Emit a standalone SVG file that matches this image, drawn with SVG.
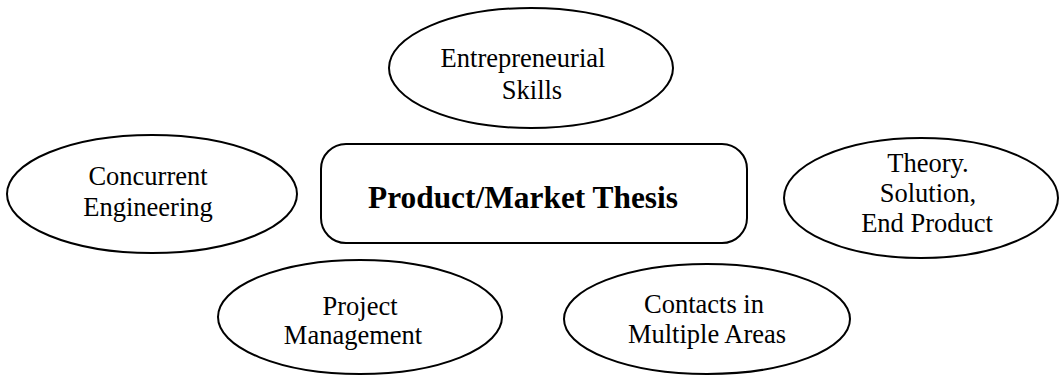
<svg xmlns="http://www.w3.org/2000/svg" width="1060" height="375" viewBox="0 0 1060 375">
<style>
.shape{fill:#fff;stroke:#000;stroke-width:2}
.lbl{font-family:"Liberation Serif","Times New Roman",serif;font-size:26.5px;fill:#000;text-anchor:middle}
.title{font-family:"Liberation Serif","Times New Roman",serif;font-size:31px;font-weight:bold;fill:#000;text-anchor:middle}
</style>
<rect width="1060" height="375" fill="#fff"/>
<g id="connectors"></g>
<g id="entrepreneurial">
<ellipse class="shape" cx="531" cy="68" rx="142" ry="60"/>
<text class="lbl" x="523" y="67">Entrepreneurial</text>
<text class="lbl" x="532" y="99">Skills</text>
</g>
<g id="concurrent">
<ellipse class="shape" cx="152" cy="194" rx="145" ry="59"/>
<text class="lbl" x="148" y="185">Concurrent</text>
<text class="lbl" x="148" y="216">Engineering</text>
</g>
<g id="thesis">
<rect class="shape" x="321" y="144" width="426" height="99" rx="25" ry="25"/>
<text class="title" x="523" y="208" textLength="310" lengthAdjust="spacingAndGlyphs">Product/Market Thesis</text>
</g>
<g id="theory">
<ellipse class="shape" cx="921" cy="198" rx="137" ry="60"/>
<text class="lbl" x="928" y="172">Theory.</text>
<text class="lbl" x="928" y="202">Solution,</text>
<text class="lbl" x="927" y="232">End Product</text>
</g>
<g id="project">
<ellipse class="shape" cx="360" cy="317" rx="142" ry="57"/>
<text class="lbl" x="360" y="315">Project</text>
<text class="lbl" x="353" y="344">Management</text>
</g>
<g id="contacts">
<ellipse class="shape" cx="707" cy="319" rx="143" ry="55"/>
<text class="lbl" x="704" y="313">Contacts in</text>
<text class="lbl" x="707" y="343">Multiple Areas</text>
</g>
</svg>
